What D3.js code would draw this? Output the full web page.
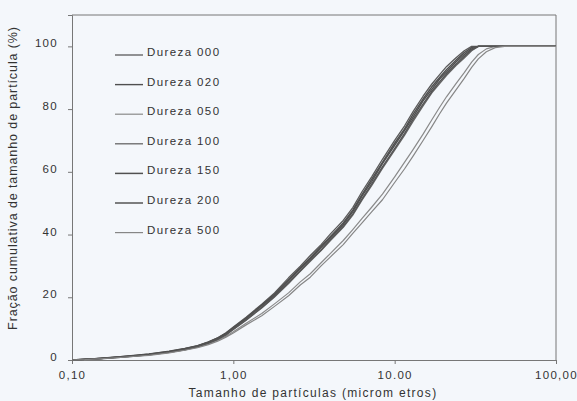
<!DOCTYPE html>
<html>
<head>
<meta charset="utf-8">
<script src="https://cdn.jsdelivr.net/npm/d3@7"></script>
<style>
  html, body { margin: 0; padding: 0; background: #f4f7fb; }
  svg { display: block; }
  text { font-family: Arial, "Liberation Sans", sans-serif; fill: #333; }
</style>
</head>
<body>
<svg id="chart" width="577" height="401"></svg>
<script>
// Particle sizes (micrometres) at which the cumulative fractions are sampled
const sizes = [0.10, 0.12, 0.15, 0.20, 0.25, 0.30, 0.40, 0.50, 0.60, 0.70,
               0.80, 0.90, 1.0, 1.2, 1.5, 1.8, 2.2, 2.6, 3.0, 3.5,
               4.0, 4.8, 5.5, 6.3, 7.2, 8.4, 10, 11.5, 13, 15,
               17, 19, 21, 24, 27, 30, 33, 37, 42, 48, 100];

// Cumulative fraction (%) for each hardness level
const dureza000 = [0,0.2,0.6,1.1,1.5,1.9,2.8,3.7,4.6,5.8,7.1,8.7,10.5,13.6,17.8,21.4,26.2,29.9,33.3,36.8,40.2,44.5,48.6,53.8,58.4,64.0,70.0,74.6,79.2,84.1,88.0,91.0,93.6,96.4,98.6,100,100,100,100,100,100];
const dureza020 = [0,0.2,0.5,1.0,1.4,1.8,2.6,3.5,4.5,5.6,6.9,8.4,10.1,13.2,17.3,20.6,25.3,29.2,32.2,35.9,39.0,43.2,47.3,52.4,56.9,62.6,68.4,73.1,77.4,82.6,86.3,89.6,91.9,95.0,97.4,99.2,100,100,100,100,100];
const dureza050 = [0,0.2,0.4,0.9,1.3,1.6,2.4,3.2,4.1,5.1,6.3,7.6,9.0,11.7,14.8,17.9,21.4,24.9,27.5,31.0,34.0,38.1,41.6,45.2,48.7,52.9,58.4,63.0,67.1,72.0,76.6,80.6,84.0,88.1,91.6,95.0,97.4,99.2,100,100,100];
const dureza100 = [0,0.2,0.5,0.9,1.3,1.7,2.5,3.4,4.3,5.4,6.6,8.1,9.7,12.7,16.6,20.1,24.4,28.3,31.5,34.9,38.1,42.3,46.2,51.1,55.6,61.1,66.9,71.6,76.1,81.0,85.2,88.1,90.8,93.9,96.3,98.6,100,100,100,100,100];
const dureza150 = [0,0.2,0.5,1.0,1.5,1.9,2.7,3.6,4.5,5.7,7.0,8.5,10.3,13.4,17.5,21.0,25.6,29.4,32.6,36.3,39.4,43.7,47.8,52.9,57.6,63.0,69.1,73.6,78.3,83.2,87.1,90.1,92.6,95.6,98.0,99.6,100,100,100,100,100];
const dureza200 = [0,0.2,0.4,0.9,1.3,1.7,2.5,3.3,4.3,5.3,6.6,8.0,9.8,12.8,16.8,20.3,24.7,28.5,31.8,35.1,38.5,42.6,46.6,51.5,56.1,61.6,67.4,72.2,76.7,81.6,85.6,88.7,91.3,94.3,96.8,98.9,100,100,100,100,100];
const dureza500 = [0,0.1,0.4,0.8,1.2,1.5,2.3,3.1,3.9,4.9,6.0,7.3,8.6,11.2,14.1,17.1,20.5,23.9,26.4,30.0,32.9,36.8,40.4,43.8,47.2,51.1,56.6,60.9,65.0,70.0,74.4,78.5,82.0,86.1,89.8,93.3,96.0,98.3,99.6,100,100];

const seriesNames = ["Dureza 000", "Dureza 020", "Dureza 050", "Dureza 100", "Dureza 150", "Dureza 200", "Dureza 500"];
const seriesValues = [dureza000, dureza020, dureza050, dureza100, dureza150, dureza200, dureza500];

// Axis ticks and their printed labels
const xTicks = [0.1, 1, 10, 100];
const xTickLabels = ["0,10", "1,00", "10.00", "100,00"];
const yTicks = [0, 20, 40, 60, 80, 100];

// Stroke look per series
const strokeColors = ["#5a5a5a", "#4f4f4f", "#8a8a8a", "#666666", "#505050", "#555555", "#868686"];
const strokeWidths = [1.3, 1.4, 1.2, 1.3, 1.5, 1.5, 1.2];

const svg = d3.select("#chart");
const margin = { left: 72, right: 21, top: 15, bottom: 41 };
const W = 577, H = 401;

const x = d3.scaleLog().domain([0.1, 100]).range([margin.left, W - margin.right]);
const y = d3.scaleLinear().domain([0, 110]).range([H - margin.bottom, margin.top]);

const frameColor = "#777777";

// Plot frame (top and right edges)
svg.append("path")
  .attr("d", `M${x(0.1)},${y(110)}H${x(100)}V${y(0)}`)
  .attr("fill", "none").attr("stroke", frameColor).attr("stroke-width", 1);

// X axis
const xAxis = svg.append("g")
  .attr("transform", `translate(0,${y(0)})`)
  .call(d3.axisBottom(x).tickValues(xTicks).tickSize(4).tickFormat((d, i) => xTickLabels[i]));
xAxis.select(".domain").attr("stroke", frameColor);
xAxis.selectAll(".tick line").attr("stroke", frameColor);
xAxis.selectAll(".tick text")
  .attr("dy", "1.05em").attr("y", 7)
  .style("font-size", "11.5px").style("letter-spacing", "1.3px").attr("fill", "#333");

// Y axis
const yAxis = svg.append("g")
  .attr("transform", `translate(${x(0.1)},0)`)
  .call(d3.axisLeft(y).tickValues(yTicks).tickSize(4).tickPadding(10));
yAxis.select(".domain").attr("stroke", frameColor);
yAxis.selectAll(".tick line").attr("stroke", frameColor);
yAxis.selectAll(".tick text")
  .attr("dy", "0.05em")
  .style("font-size", "11.5px").style("letter-spacing", "1.3px").attr("fill", "#333");

// Curves
const line = d3.line()
  .x((d, i) => x(sizes[i]))
  .y(d => y(d));

svg.append("g").selectAll("path")
  .data(seriesValues)
  .join("path")
  .attr("d", line)
  .attr("fill", "none")
  .attr("stroke", (d, i) => strokeColors[i])
  .attr("stroke-width", (d, i) => strokeWidths[i])
  .attr("stroke-linejoin", "round");

// Legend
const legend = svg.append("g");
seriesNames.forEach((name, i) => {
  const cy = 52 + i * 29.6;
  legend.append("line")
    .attr("x1", 115).attr("x2", 143)
    .attr("y1", cy + 3).attr("y2", cy + 3)
    .attr("stroke", strokeColors[i]).attr("stroke-width", strokeWidths[i]);
  legend.append("text")
    .attr("x", 147).attr("y", cy + 4)
    .style("font-size", "11.5px").style("letter-spacing", "1.4px")
    .text(name);
});

// Axis titles
svg.append("text")
  .attr("x", 313).attr("y", 397)
  .attr("text-anchor", "middle")
  .style("font-size", "12px").style("letter-spacing", "1.3px")
  .text("Tamanho de partículas (microm etros)");

svg.append("text")
  .attr("transform", `translate(17,${178}) rotate(-90)`)
  .attr("text-anchor", "middle")
  .style("font-size", "12.5px").style("letter-spacing", "0.9px")
  .text("Fração cumulativa de tamanho de partícula (%)");
</script>
</body>
</html>
